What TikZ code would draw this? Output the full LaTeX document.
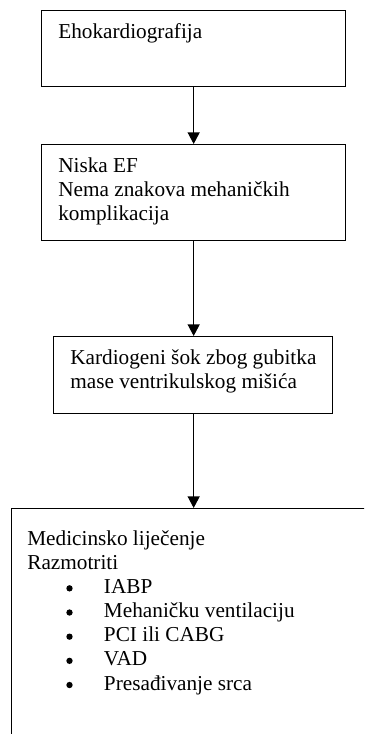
\documentclass[tikz,border=0pt]{standalone}
\usepackage{fontspec}
\setmainfont{Liberation Serif}
\usetikzlibrary{arrows.meta}
% stacked lines whose reference point is the first line's baseline
\newcommand{\flowlines}[1]{\vtop{\baselineskip=14.5pt\lineskiplimit=-10pt\halign{##\hfil\cr#1\crcr}}}
% one list entry: text indented to 46pt, the bullet is drawn by TikZ
\newcommand{\flowitem}[1]{\hspace*{46pt}#1}
\begin{document}
\begin{tikzpicture}[x=0.6pt,y=-0.6pt,
  stepbox/.style={draw, line width=0.8pt, rectangle, inner sep=0pt, anchor=north west},
  txt/.style={anchor=base west, inner sep=0pt,
    font=\fontsize{12.75}{14.5}\selectfont},
  arr/.style={-{Triangle[width=7.2pt,length=7pt]}, line width=0.8pt}]
\useasboundingbox (0,0) rectangle (364,734);
\clip (0,0) rectangle (364,734);

% boxes
\node[stepbox, minimum width=182.4pt, minimum height=45.6pt] (echo) at (41,10) {};
\node[stepbox, minimum width=182.4pt, minimum height=57.6pt] (lowef) at (41,144) {};
\node[stepbox, minimum width=167.4pt, minimum height=46.2pt] (shock) at (53,336) {};
\node[stepbox, minimum width=240pt, minimum height=180pt] (treat) at (11,508) {};

% texts
\node[txt] (echoT) at (58,38) {Ehokardiografija};
\node[txt] (lowefT) at (58,172) {\flowlines{Niska EF\cr Nema znakova mehaničkih\cr komplikacija}};
\node[txt] (shockT) at (70,364) {\flowlines{Kardiogeni šok zbog gubitka\cr mase ventrikulskog mišića}};
\node[txt] (treatT) at (27,545) {\flowlines{Medicinsko liječenje\cr Razmotriti\cr
  \flowitem{IABP}\cr
  \flowitem{Mehaničku ventilaciju}\cr
  \flowitem{PCI ili CABG}\cr
  \flowitem{VAD}\cr
  \flowitem{Presađivanje srca}}};

% list bullets: one per entry line (line pitch 14.5pt = 24.17 units), 3pt above the baseline
\foreach \k in {2,...,6}
  \fill ([shift={(42.5,{\k*24.1667-5})}]treatT.base west) circle (1.9pt);

% connectors
\draw[arr] (echo.south) -- (lowef.north);
\draw[arr] (lowef.south) -- (shock.north -| lowef.south);
\draw[arr] (shock.south -| lowef.south) -- (treat.north -| lowef.south);
\end{tikzpicture}
\end{document}
